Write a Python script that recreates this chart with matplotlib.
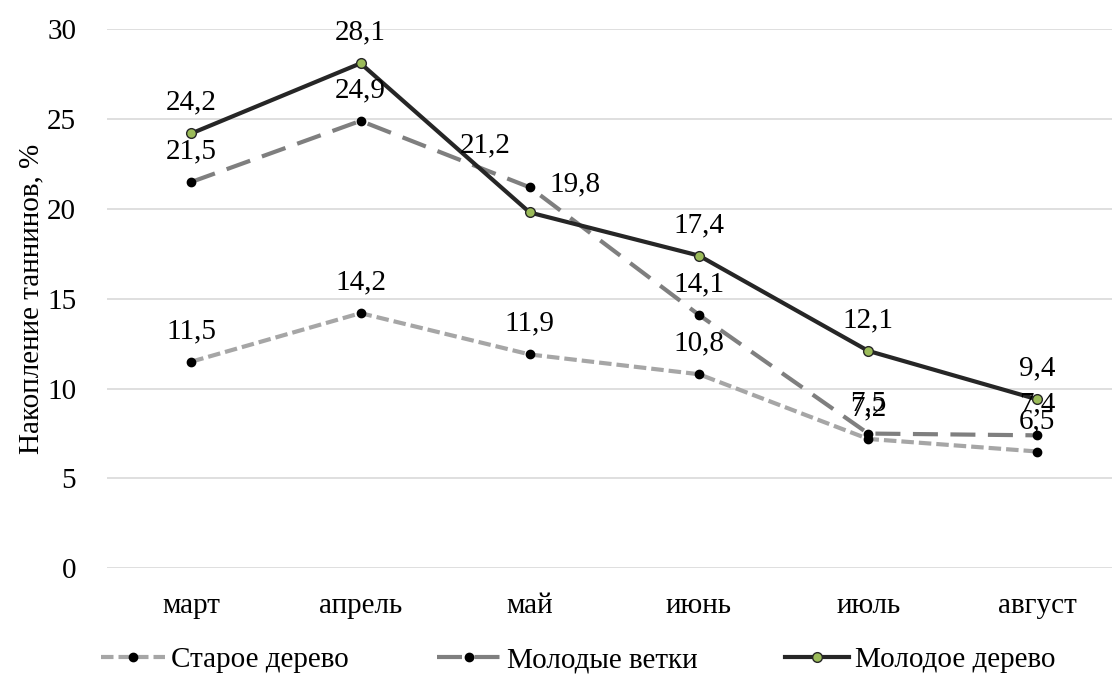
import matplotlib.pyplot as plt

# месяцы и накопление таннинов, %
months = ['март', 'апрель', 'май', 'июнь', 'июль', 'август']
old_tree = [11.5, 14.2, 11.9, 10.8, 7.2, 6.5]
young_branches = [21.5, 24.9, 21.2, 14.1, 7.5, 7.4]
young_tree = [24.2, 28.1, 19.8, 17.4, 12.1, 9.4]

plt.rcParams['font.family'] = ['Liberation Serif', 'DejaVu Serif']
plt.rcParams['font.size'] = 21

fig = plt.figure(figsize=(11.12, 6.79), dpi=100)
ax = fig.add_axes([0.096, 0.163, 0.913, 0.794])

x = range(len(months))

ax.plot(x, old_tree, color='#A6A6A6', lw=3, dashes=(3, 1.2),
        marker='o', ms=6, mfc='black', mec='black', label='Старое дерево')
ax.plot(x, young_branches, color='#7F7F7F', lw=3, dashes=(6, 3),
        marker='o', ms=6, mfc='black', mec='black', label='Молодые ветки')
ax.plot(x, young_tree, color='#262626', lw=3,
        marker='o', ms=7, mfc='#9BBB59', mec='#262626', mew=1,
        label='Молодое дерево')

# подписи значений над точками (две в мае сдвинуты вбок)
shifts = {(1, 2): (-32, 25, 'center'), (2, 2): (14, 15, 'left')}
for k, series in enumerate((old_tree, young_branches, young_tree)):
    for i, v in enumerate(series):
        dx, dy, ha = shifts.get((k, i), (0, 17, 'center'))
        ax.annotate(f'{v:.1f}'.replace('.', ','), (i, v), xytext=(dx, dy),
                    textcoords='offset points', ha=ha, va='baseline')

ax.set_xlim(-0.5, len(months) - 0.5)
ax.set_ylim(0, 30)
ax.set_yticks(range(0, 31, 5))
ax.set_xticks(list(x))
ax.set_xticklabels(months)
ax.set_ylabel('Накопление таннинов, %', labelpad=2)

ax.grid(axis='y', color='#D9D9D9', lw=1.2)
ax.set_axisbelow(True)
for s in ax.spines.values():
    s.set_visible(False)
ax.tick_params(axis='x', length=0, pad=18)
ax.tick_params(axis='y', length=0, pad=22)

fig.legend(loc='center', bbox_to_anchor=(0.52, 0.028), ncol=3, frameon=False,
           handlelength=2.2, columnspacing=3.0, handletextpad=0.2)

plt.savefig('out.png')
